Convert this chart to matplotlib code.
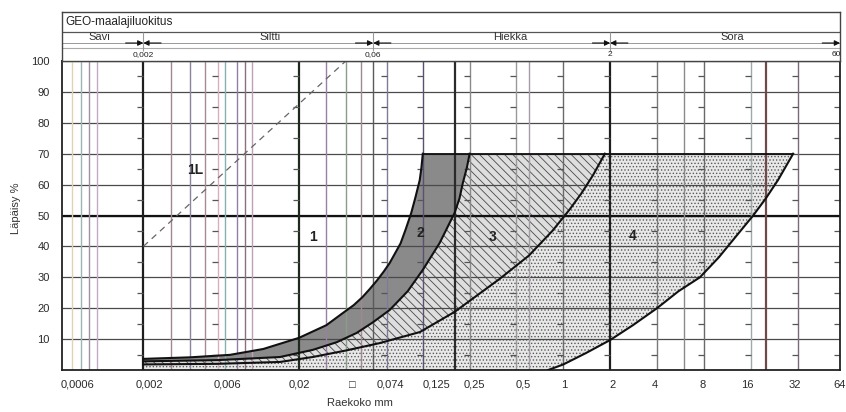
import matplotlib.pyplot as plt
from matplotlib.ticker import NullLocator

plt.rcParams['font.family'] = ['Liberation Sans', 'DejaVu Sans']
plt.rcParams['hatch.linewidth'] = 0.6

# axis values
x_min, x_max = 0.0006, 60
y_levels = [10, 20, 30, 40, 50, 60, 70, 80, 90, 100]
half_levels = [5, 15, 25, 35, 45, 55, 65, 75, 85, 95]
x_tick_pos = [0.00075, 0.0022, 0.0069, 0.02, 0.0438, 0.0769, 0.154, 0.27,
              0.551, 1.02, 2.06, 3.88, 7.89, 15.3, 30.8, 59.9]
x_tick_labels = ['0,0006', '0,002', '0,006', '0,02', '\u25a1', '0,074', '0,125',
                 '0,25', '0,5', '1', '2', '4', '8', '16', '32', '64']

# sieve lines
bold_x = [0.002, 0.02, 0.2, 2, 20]
bold_colors = ['#1e1e1e', '#1e2a1e', '#2a2a2a', '#1e1e1e', '#6e4a4a']
sieve_x = [0.0007, 0.0008, 0.0009, 0.001, 0.003, 0.004, 0.005, 0.006, 0.0067,
           0.008, 0.009, 0.01, 0.03, 0.04, 0.05, 0.06, 0.074, 0.125, 0.25,
           0.5, 0.6, 1, 4, 6, 8, 16, 32]
sieve_colors = ['#e2d2b4', '#9fb4b8', '#a090a8', '#c0aac4', '#a08890', '#8a84a0',
                '#a88a96', '#d8b0b8', '#88b0b0', '#9080a8', '#8a7080', '#c0a0b8',
                '#9a80a2', '#8c9c8c', '#a08894', '#5a5a5a', '#7c7c98', '#5a5070',
                '#8a8a8a', '#9a9a9a', '#a49ca4', '#6a6a6a', '#7a7a7a', '#8a8a8a',
                '#6a6a6a', '#a0a8a8', '#7a6a7a']
dash_x = [0.002, 0.006, 0.02, 0.074, 0.125, 0.25, 0.5, 1, 2, 4, 8, 16, 32, 60]

# zone boundary curves (grain size mm, passing %)
top_level = 70
a_x = [0.002, 0.004, 0.0072, 0.0118, 0.02, 0.03, 0.0382, 0.045, 0.0512, 0.057,
       0.0635, 0.07, 0.0765, 0.083, 0.09, 0.097, 0.1053, 0.112, 0.1195, 0.1225, 0.125]
a_y = [3.6, 4.1, 4.9, 6.8, 10.4, 14.5, 18.4, 21, 23.6, 26.2, 29, 31.8, 34.6,
       37.8, 41, 45.5, 50.8, 55.8, 61.5, 65.5, 70]
b_x = [0.002, 0.006, 0.0151, 0.0245, 0.035, 0.047, 0.06, 0.0765, 0.1, 0.125,
       0.16, 0.2, 0.215, 0.226, 0.24, 0.25]
b_y = [2.8, 3.2, 4.2, 6.5, 9, 12, 15.5, 19.4, 25.5, 32.4, 41, 50.8, 55.5, 60.5, 65.5, 70]
c_x = [0.002, 0.006, 0.0151, 0.0245, 0.04, 0.066, 0.12, 0.2, 0.39, 0.6, 0.85,
       1.1, 1.3, 1.55, 1.85]
c_y = [1.8, 2.0, 2.6, 4.2, 6.3, 8.7, 12.3, 18.8, 29.5, 37, 45, 52, 57, 63, 70]
d_x = [0.8, 1.0, 1.4, 2.0, 2.8, 4.0, 5.5, 7.55, 10, 13, 16.6, 20, 24, 30]
d_y = [0, 1.8, 5.5, 9.7, 14.5, 20, 25.5, 30, 36.5, 43.5, 50, 55.5, 61.5, 70]

line_1l_x = [0.002, 0.04]
line_1l_y = [40, 100]

zone_labels = ['1L', '1', '2', '3', '4']
zone_label_x = [0.0043, 0.0246, 0.12, 0.353, 2.8]
zone_label_y = [64.7, 43, 44.3, 43, 43.4]

# header: soil classes and limits
class_names = ['Savi', 'Siltti', 'Hiekka', 'Sora']
class_x = [0.00105, 0.0131, 0.454, 12.1]
limit_x = [0.002, 0.06, 2]
limit_labels = ['0,002', '0,06', '2']

fig = plt.figure(figsize=(8.46, 4.12), dpi=100)
ax = fig.add_axes([62 / 846, 42 / 412, 778 / 846, 309 / 412])
hd = fig.add_axes([62 / 846, 351 / 412, 778 / 846, 49 / 412])

ax.set_xscale('log')
ax.set_xlim(x_min, x_max)
ax.set_ylim(0, 100)

# zones
ax.fill(a_x + b_x[::-1], a_y + b_y[::-1], facecolor='#8a8a8a', edgecolor='none', zorder=1)
ax.fill(b_x + c_x[::-1], b_y + c_y[::-1], facecolor='#dedede', edgecolor='#4a4a4a',
        linewidth=0, hatch='\\\\\\\\', zorder=1)
ax.fill(c_x + d_x[::-1] + [c_x[0]], c_y + d_y[::-1] + [0], facecolor='#e8e8e8',
        edgecolor='#5a5a5a', linewidth=0, hatch='.....', zorder=1)

# grid
ax.hlines(y_levels, x_min, x_max, color='#4a4a4a', linewidth=0.9, zorder=2)
ax.hlines([50], x_min, x_max, color='#111111', linewidth=1.6, zorder=2)
ax.vlines(sieve_x, 0, 100, colors=sieve_colors, linewidth=1.0, zorder=2)
ax.vlines(bold_x, 0, 100, colors=bold_colors, linewidth=1.6, zorder=2)
for xv in dash_x:
    ax.plot([xv] * len(half_levels), half_levels, linestyle='none', marker=0,
            markersize=4.5, markeredgewidth=0.9, color='#555555', zorder=2)

# curves
for cx, cy in [(a_x, a_y), (b_x, b_y), (c_x, c_y), (d_x, d_y)]:
    ax.plot(cx, cy, color='#111111', linewidth=1.5, zorder=4)
ax.hlines([top_level], a_x[-1], d_x[-1], color='#111111', linewidth=1.3, zorder=4)
ax.plot(line_1l_x, line_1l_y, color='#666666', linewidth=0.9,
        linestyle=(0, (5, 4)), zorder=4)

for lab, lx, ly in zip(zone_labels, zone_label_x, zone_label_y):
    ax.text(lx, ly, lab, fontsize=10, fontweight='bold', color='#222222',
            ha='center', va='center', zorder=5)

ax.xaxis.set_minor_locator(NullLocator())
ax.set_xticks(x_tick_pos)
ax.set_xticklabels(x_tick_labels)
ax.set_yticks(y_levels)
ax.set_yticklabels([str(v) for v in y_levels])
ax.tick_params(axis='both', which='both', length=0, labelsize=8, colors='#2a2a2a')
ax.tick_params(axis='x', pad=7)
ax.tick_params(axis='y', pad=9)
for sp in ax.spines.values():
    sp.set_linewidth(1.3)
    sp.set_color('#222222')
fig.text(360 / 846, 1 - 403 / 412, 'Raekoko mm', fontsize=8, color='#333333',
         ha='center', va='center')
fig.text(16 / 846, 1 - 208 / 412, 'L\u00e4p\u00e4isy %', fontsize=8, color='#333333',
         ha='center', va='center', rotation=90)

# header table
hd.set_xscale('log')
hd.set_xlim(x_min, x_max)
hd.set_ylim(0, 1)
hd.xaxis.set_major_locator(NullLocator())
hd.xaxis.set_minor_locator(NullLocator())
hd.yaxis.set_major_locator(NullLocator())
for sp in hd.spines.values():
    sp.set_linewidth(1.0)
    sp.set_color('#444444')
hd.axhline(0.592, color='#555555', linewidth=0.9)
hd.axhline(0.265, color='#aaaaaa', linewidth=0.8)
hd.axhline(0.367, color='#999999', linewidth=0.7)
hd.text(0.00063, 0.80, 'GEO-maalajiluokitus', fontsize=8.5, color='#222222',
        ha='left', va='center')
for name, cx in zip(class_names, class_x):
    hd.text(cx, 0.49, name, fontsize=8, color='#333333', ha='center', va='center')
for lim, lab in zip(limit_x, limit_labels):
    hd.vlines(lim, 0.2, 0.59, color='#999999', linewidth=0.8)
    hd.annotate('', xy=(lim, 0.367), xytext=(lim / 1.3, 0.367),
                arrowprops=dict(arrowstyle='-|>', color='#111111', lw=0.8,
                                mutation_scale=8, shrinkA=0, shrinkB=0))
    hd.annotate('', xy=(lim, 0.367), xytext=(lim * 1.3, 0.367),
                arrowprops=dict(arrowstyle='-|>', color='#111111', lw=0.8,
                                mutation_scale=8, shrinkA=0, shrinkB=0))
    hd.text(lim, 0.13, lab, fontsize=6, color='#222222', ha='center', va='center')
hd.annotate('', xy=(x_max, 0.367), xytext=(x_max / 1.3, 0.367),
            arrowprops=dict(arrowstyle='-|>', color='#111111', lw=0.8,
                            mutation_scale=8, shrinkA=0, shrinkB=0))
hd.text(x_max / 1.05, 0.13, '60', fontsize=6, color='#222222', ha='center', va='center')

fig.savefig('out.png', dpi=100)
